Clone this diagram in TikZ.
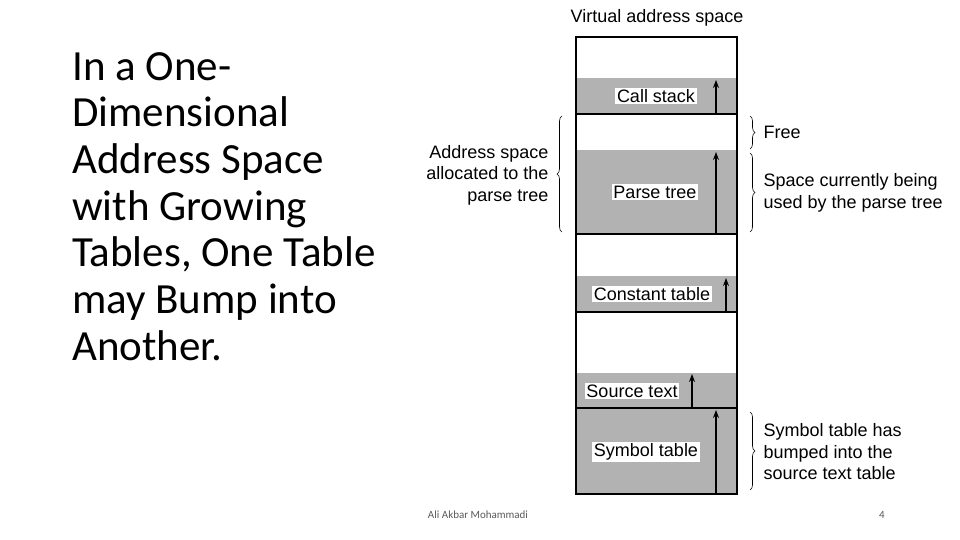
\documentclass[tikz,border=0pt]{standalone}
\usepackage{fontspec}
\setmainfont{Liberation Sans}
\newfontfamily\titlefont{Carlito}
\usetikzlibrary{decorations.pathreplacing,arrows.meta}
\definecolor{segray}{RGB}{178,178,178}
\begin{document}
\begin{tikzpicture}[x=1pt,y=-1pt,
  seg/.style={fill=segray,draw=none},
  lbl/.style={fill=white,inner sep=1.5pt,font=\fontsize{18}{21}\selectfont},
  up/.style={-{Stealth[length=8pt,width=6pt]},line width=1.2pt},
  brc/.style={decorate,decoration={brace,amplitude=5pt},line width=0.6pt},
  side/.style={align=left,anchor=west,font=\fontsize{18}{21.5}\selectfont}]
\useasboundingbox (0,0) rectangle (960,540);
\node[anchor=south,font=\fontsize{18}{21}\selectfont] (vas) at (657,30) {Virtual address space};
\fill[seg] (576,78) rectangle (737,114);
\fill[seg] (576,150) rectangle (737,234);
\fill[seg] (576,276) rectangle (737,312);
\fill[seg] (576,373) rectangle (737,494);
\draw[line width=1.2pt] (576,114) -- (737,114) (576,234) -- (737,234) (576,312) -- (737,312) (576,408) -- (737,408);
\draw[line width=1.2pt] (576,37) rectangle (737,494);
\coordinate (a1) at (716,114); \coordinate (a1t) at (716,80);
\coordinate (a2) at (716,234); \coordinate (a2t) at (716,152);
\coordinate (a3) at (726,312); \coordinate (a3t) at (726,278);
\coordinate (a4) at (692,408); \coordinate (a4t) at (692,374);
\coordinate (a5) at (716,494); \coordinate (a5t) at (716,410);
\foreach \p in {1,...,5} \draw[up] (a\p) -- (a\p t);
\node[lbl] (cs) at (656,96) {Call stack};
\node[lbl] (pt) at (655,192) {Parse tree};
\node[lbl] (ct) at (652,294) {Constant table};
\node[lbl] (st) at (632,391) {Source text};
\node[lbl] (sy) at (646,452) {Symbol table};
\coordinate (b1) at (750,116); \coordinate (b1e) at (750,149);
\coordinate (b2) at (750,153); \coordinate (b2e) at (750,232);
\coordinate (b3) at (750,412); \coordinate (b3e) at (750,490);
\coordinate (b4) at (562,116); \coordinate (b4e) at (562,232);
\draw[brc] (b1) -- (b1e);
\draw[brc] (b2) -- (b2e);
\draw[brc] (b3) -- (b3e);
\draw[brc] (b4e) -- (b4);
\node[side] (free) at (760,132) {Free};
\node[side] (used) at (760,193) {Space currently being\\used by the parse tree};
\node[side] (bump) at (760,452) {Symbol table has\\bumped into the\\source text table};
\node[align=right,anchor=east,font=\fontsize{18}{21.5}\selectfont] (alloc) at (552,175) {Address space\\allocated to the\\parse tree};
\node[anchor=north west,align=left,inner sep=0pt,font=\titlefont\fontsize{43}{46.7}\selectfont] (title) at (72,52) {In a One-\\Dimensional\\Address Space\\with Growing\\Tables, One Table\\may Bump into\\Another.};
\node[font=\titlefont\fontsize{11}{12}\selectfont,text=gray!70!black] (auth) at (478,515) {Ali Akbar Mohammadi};
\node[font=\titlefont\fontsize{11}{12}\selectfont,text=gray!70!black] (num) at (882,515) {4};
\end{tikzpicture}
\end{document}
